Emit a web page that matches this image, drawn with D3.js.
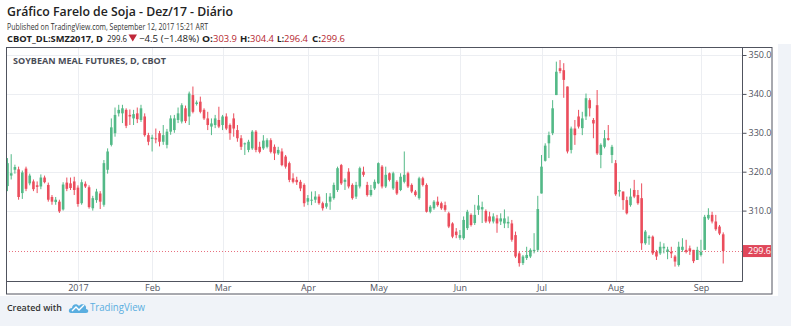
<!DOCTYPE html>
<html><head><meta charset="utf-8">
<script src="https://cdn.jsdelivr.net/npm/d3@7"></script>
<style>
html,body{margin:0;padding:0;background:#fff;}
svg{display:block;}
</style></head><body>
<svg id="c" width="791" height="326"></svg>
<script>
// ---- categories: trading days (Dec 5, 2016 .. Sep 12, 2017) ----
const dates = [
"2016-12-05","2016-12-06","2016-12-07","2016-12-08","2016-12-09","2016-12-12","2016-12-13","2016-12-14","2016-12-15","2016-12-16","2016-12-19","2016-12-20","2016-12-21","2016-12-22","2016-12-23","2016-12-27","2016-12-28","2016-12-29","2016-12-30",
"2017-01-03","2017-01-04","2017-01-05","2017-01-06","2017-01-09","2017-01-10","2017-01-11","2017-01-12","2017-01-13","2017-01-17","2017-01-18","2017-01-19","2017-01-20","2017-01-23","2017-01-24","2017-01-25","2017-01-26","2017-01-27","2017-01-30","2017-01-31",
"2017-02-01","2017-02-02","2017-02-03","2017-02-06","2017-02-07","2017-02-08","2017-02-09","2017-02-10","2017-02-13","2017-02-14","2017-02-15","2017-02-16","2017-02-17","2017-02-21","2017-02-22","2017-02-23","2017-02-24","2017-02-27","2017-02-28",
"2017-03-01","2017-03-02","2017-03-03","2017-03-06","2017-03-07","2017-03-08","2017-03-09","2017-03-10","2017-03-13","2017-03-14","2017-03-15","2017-03-16","2017-03-17","2017-03-20","2017-03-21","2017-03-22","2017-03-23","2017-03-24","2017-03-27","2017-03-28","2017-03-29","2017-03-30","2017-03-31",
"2017-04-03","2017-04-04","2017-04-05","2017-04-06","2017-04-07","2017-04-10","2017-04-11","2017-04-12","2017-04-13","2017-04-17","2017-04-18","2017-04-19","2017-04-20","2017-04-21","2017-04-24","2017-04-25","2017-04-26","2017-04-27","2017-04-28",
"2017-05-01","2017-05-02","2017-05-03","2017-05-04","2017-05-05","2017-05-08","2017-05-09","2017-05-10","2017-05-11","2017-05-12","2017-05-15","2017-05-16","2017-05-17","2017-05-18","2017-05-19","2017-05-22","2017-05-23","2017-05-24","2017-05-25","2017-05-26","2017-05-30","2017-05-31",
"2017-06-01","2017-06-02","2017-06-05","2017-06-06","2017-06-07","2017-06-08","2017-06-09","2017-06-12","2017-06-13","2017-06-14","2017-06-15","2017-06-16","2017-06-19","2017-06-20","2017-06-21","2017-06-22","2017-06-23","2017-06-26","2017-06-27","2017-06-28","2017-06-29","2017-06-30",
"2017-07-03","2017-07-05","2017-07-06","2017-07-07","2017-07-10","2017-07-11","2017-07-12","2017-07-13","2017-07-14","2017-07-17","2017-07-18","2017-07-19","2017-07-20","2017-07-21","2017-07-24","2017-07-25","2017-07-26","2017-07-27","2017-07-28","2017-07-31",
"2017-08-01","2017-08-02","2017-08-03","2017-08-04","2017-08-07","2017-08-08","2017-08-09","2017-08-10","2017-08-11","2017-08-14","2017-08-15","2017-08-16","2017-08-17","2017-08-18","2017-08-21","2017-08-22","2017-08-23","2017-08-24","2017-08-25","2017-08-28","2017-08-29","2017-08-30","2017-08-31",
"2017-09-01","2017-09-05","2017-09-06","2017-09-07","2017-09-08","2017-09-11","2017-09-12"
];

// ---- series values (OHLC) ----
const opens = [
316.3,319.0,320.5,320.6,314.5,320.8,317.0,317.5,316.5,316.2,318.5,316.6,313.5,312.2,312.3,310.3,317.2,317.0,317.5,
315.9,311.9,316.9,316.0,310.6,312.7,314.4,311.5,320.5,326.9,329.9,335.0,335.0,335.9,334.6,333.7,335.0,333.3,334.2,329.4,
328.4,328.6,329.9,327.7,326.9,330.3,330.7,333.3,332.9,336.3,334.2,339.7,337.4,338.0,335.9,333.7,331.6,332.0,333.3,
332.0,334.2,332.0,333.7,330.7,328.6,327.1,325.6,326.0,330.3,326.4,326.0,326.4,328.1,326.4,324.7,325.2,323.9,322.2,318.3,317.9,317.4,316.6,
312.3,312.7,312.8,313.6,311.9,311.0,312.3,313.2,315.3,321.7,317.4,320.0,316.6,313.6,316.2,320.0,316.6,314.0,315.7,
317.0,321.3,316.2,319.6,315.7,317.4,315.3,317.4,319.6,316.6,314.9,313.2,318.3,316.6,309.7,310.6,312.3,311.9,311.4,309.3,306.7,304.6,
303.0,302.9,305.5,308.9,306.8,310.2,310.3,309.9,308.5,307.2,308.0,307.2,306.7,306.7,306.7,303.7,299.0,296.5,297.8,298.2,299.6,299.9,
314.4,322.8,327.3,329.9,339.7,346.6,346.1,341.9,325.6,331.1,334.2,331.2,334.2,338.4,333.3,337.1,324.3,326.4,328.6,324.3,
322.2,314.9,314.9,312.7,311.4,315.3,314.0,313.2,301.6,302.9,303.3,299.4,299.0,300.3,299.4,299.4,298.2,296.0,299.9,299.9,300.3,299.9,297.3,
298.6,299.9,308.0,308.9,307.2,305.9,303.9
];
const highs = [
323.5,324.5,321.8,321.3,320.3,321.3,319.5,318.0,317.5,319.3,319.0,317.2,314.0,313.5,312.8,317.3,318.5,318.5,318.7,
316.5,318.0,317.5,316.5,313.8,315.6,315.0,323.0,326.0,333.7,336.5,337.2,337.2,336.3,336.0,335.9,336.5,337.2,335.0,330.0,
329.5,331.1,330.5,332.0,331.0,334.5,334.6,336.5,337.6,337.0,340.6,341.9,338.3,339.3,336.3,335.4,333.7,334.6,336.7,
334.6,335.0,332.4,335.0,332.0,329.4,327.5,328.2,330.7,330.7,327.7,329.4,328.6,328.6,327.0,326.4,326.0,324.3,322.6,319.6,318.7,317.9,317.0,
314.0,314.9,315.0,314.2,312.3,314.5,314.5,317.2,321.3,322.0,318.3,320.9,317.0,317.4,321.3,321.3,317.4,316.6,318.0,
322.4,321.7,321.3,319.8,320.0,317.8,319.6,325.2,320.0,317.0,315.3,318.7,318.7,317.0,311.4,312.7,313.6,312.3,312.3,309.7,307.0,305.5,
305.0,308.5,310.2,309.3,311.5,314.0,312.3,310.3,309.7,309.3,308.9,309.3,310.3,308.5,307.6,304.6,299.5,298.6,300.7,300.3,304.2,313.8,
324.3,327.3,330.3,338.4,348.3,348.7,347.9,341.9,331.6,333.3,335.9,335.4,340.1,338.9,333.8,341.0,327.3,330.7,332.0,326.9,
323.0,317.4,314.9,313.6,315.7,317.9,315.3,317.0,305.0,303.7,303.6,299.9,302.0,301.6,300.7,300.7,298.6,302.0,302.9,302.5,301.0,299.9,300.7,
302.5,308.9,310.6,309.7,308.9,306.3,304.4
];
const lows = [
315.0,318.0,319.5,312.8,313.0,315.0,316.5,315.0,314.5,315.5,317.0,312.3,311.5,311.5,309.4,310.0,315.0,315.3,314.0,
311.0,311.5,315.8,310.5,310.0,312.0,310.4,311.0,319.5,326.5,329.0,334.2,332.5,331.2,332.0,332.0,332.5,332.8,329.0,326.8,
325.2,327.3,326.5,326.9,326.0,329.5,330.0,332.5,332.4,332.5,332.0,335.0,337.0,335.0,333.3,330.7,329.4,331.2,331.2,
330.7,330.7,328.2,329.0,327.7,325.6,324.3,325.0,325.6,325.0,324.7,325.6,326.0,324.7,323.0,324.3,321.4,320.8,317.3,317.0,316.6,315.0,311.0,
311.4,311.4,312.0,311.5,310.0,310.5,310.2,312.8,314.8,316.6,315.3,315.7,312.8,313.0,315.7,318.7,313.6,313.6,315.3,
316.8,315.7,315.8,317.5,315.3,314.0,315.0,317.0,315.8,314.5,313.6,312.8,316.2,309.5,309.3,310.2,311.0,310.2,309.7,305.5,302.9,302.9,
302.5,302.5,305.0,305.9,306.3,308.9,306.8,306.8,306.7,306.7,304.3,306.3,305.5,305.5,302.0,297.8,295.6,296.0,297.3,297.8,299.0,299.4,
314.4,322.6,323.5,329.4,339.7,345.3,339.0,324.7,324.7,326.9,331.1,329.4,333.3,334.2,328.6,324.3,320.9,326.0,328.0,322.2,
313.8,313.6,310.2,309.0,311.0,313.2,311.5,299.9,301.2,301.2,298.6,297.3,298.6,299.0,297.5,297.8,295.6,295.6,299.4,299.0,298.6,296.5,297.3,
298.2,299.9,307.6,306.7,304.8,303.7,296.4
];
const closes = [
322.2,319.6,321.2,313.5,319.8,315.6,319.0,315.5,316.1,318.5,317.3,312.8,312.3,312.8,309.8,316.7,315.6,315.8,315.3,
311.7,317.3,316.2,310.9,313.2,314.9,312.3,322.2,325.2,331.4,334.6,335.9,336.3,331.8,334.2,334.8,333.5,336.3,329.4,327.7,
328.8,328.3,327.7,329.4,330.3,333.7,333.7,335.0,337.1,333.0,340.1,335.4,337.8,335.4,333.7,332.0,332.4,333.7,331.6,
334.2,331.1,329.9,331.1,328.6,326.4,327.3,327.7,330.3,325.6,325.1,328.0,328.1,325.1,324.7,325.6,321.7,321.3,317.9,317.4,317.3,315.7,311.9,
313.2,312.8,313.6,311.9,310.6,311.9,313.6,316.6,320.9,317.0,317.9,316.2,313.2,316.6,320.9,319.2,314.0,315.3,317.4,
322.2,316.2,319.2,317.9,319.6,314.4,318.7,319.2,316.2,314.9,314.0,318.3,316.6,309.7,311.0,312.3,311.4,310.6,310.2,305.9,303.3,303.7,
303.7,307.6,309.7,306.3,308.9,311.3,310.9,307.2,307.2,308.5,306.7,308.0,308.0,307.1,302.5,298.2,296.5,298.2,298.6,299.9,299.9,310.4,
321.3,326.7,329.4,336.3,345.7,345.9,343.6,325.2,331.1,329.4,331.6,333.7,338.9,336.3,332.4,324.7,326.9,328.6,328.2,326.4,
314.2,315.3,312.7,309.3,313.6,313.6,311.9,301.6,304.6,303.3,299.0,298.2,300.7,300.7,300.0,299.0,296.9,300.7,300.7,299.4,299.6,297.0,299.9,
299.4,308.4,308.9,307.2,305.2,304.1,299.6
];

// ---- tick labels ----
const priceTicks = [310, 320, 330, 340, 350];
const monthLabels = ["2017", "Feb", "Mar", "Apr", "May", "Jun", "Jul", "Aug", "Sep"];
const lastPrice = 299.6;

const title = "Gráfico Farelo de Soja - Dez/17 - Diário";
const subtitle = "Published on TradingView.com, September 12, 2017 15:21 ART";
const symbolLine = "CBOT_DL:SMZ2017, D";
const chartLabel = "SOYBEAN MEAL FUTURES, D, CBOT";

// ---- build ----
const UP = "#53b987", DOWN = "#eb4d5c";
const FONT = "'Open Sans', 'DejaVu Sans', sans-serif";
const svg = d3.select("#c");

const plot = {left: 6, right: 742.5, top: 47, bottom: 281};
const x = d3.scaleLinear().domain([-0.4, 198.2]).range([plot.left, plot.right]);
const y = d3.scaleLinear().domain([291.9, 352.06]).range([plot.bottom, plot.top]);

// backgrounds
svg.append("rect").attr("x", 0).attr("y", 0).attr("width", 791).attr("height", 326).attr("fill", "#fff");
svg.append("rect").attr("x", 0).attr("y", 296).attr("width", 791).attr("height", 30).attr("fill", "#f0f3f8");
svg.append("rect").attr("x", 778).attr("y", 44).attr("width", 13).attr("height", 282).attr("fill", "#f0f3f8");

// month tick indices from the dates
const parsed = dates.map(d3.timeParse("%Y-%m-%d"));
const monthIdx = [];
parsed.forEach((d, i) => { if (i > 0 && d.getMonth() !== parsed[i - 1].getMonth()) monthIdx.push(i); });

// grid
const grid = svg.append("g");
grid.selectAll("line.h").data(priceTicks).join("line")
  .attr("x1", plot.left).attr("x2", plot.right)
  .attr("y1", d => Math.round(y(d)) + 0.5).attr("y2", d => Math.round(y(d)) + 0.5)
  .attr("stroke", "#eceef2").attr("stroke-width", 1);
grid.selectAll("line.v").data(monthIdx).join("line")
  .attr("x1", d => Math.round(x(d)) + 0.5).attr("x2", d => Math.round(x(d)) + 0.5)
  .attr("y1", plot.top).attr("y2", plot.bottom)
  .attr("stroke", "#eceef2").attr("stroke-width", 1);

// last price dotted line
svg.append("line").attr("x1", plot.left).attr("x2", plot.right)
  .attr("y1", Math.round(y(lastPrice)) + 0.5).attr("y2", Math.round(y(lastPrice)) + 0.5)
  .attr("stroke", "#e8707f").attr("stroke-width", 1).attr("stroke-dasharray", "1,2");

// candles
const candles = svg.append("g");
const idx = d3.range(dates.length);
const col = i => closes[i] >= opens[i] ? UP : DOWN;
candles.selectAll("line.w").data(idx).join("line")
  .attr("x1", i => x(i)).attr("x2", i => x(i))
  .attr("y1", i => y(highs[i])).attr("y2", i => y(lows[i]))
  .attr("stroke", col).attr("stroke-width", 1);
const bw = 2.6;
candles.selectAll("rect").data(idx).join("rect")
  .attr("x", i => x(i) - bw / 2).attr("width", bw)
  .attr("y", i => y(Math.max(opens[i], closes[i])))
  .attr("height", i => Math.max(1, Math.abs(y(opens[i]) - y(closes[i]))))
  .attr("fill", col);

// frame
const frame = svg.append("g").attr("fill", "none").attr("stroke", "#50535e").attr("stroke-width", 1);
frame.append("rect").attr("x", 6.5).attr("y", 47.5).attr("width", 765.5).attr("height", 246.5);
frame.append("line").attr("x1", plot.right).attr("x2", plot.right).attr("y1", 47.5).attr("y2", plot.bottom + 0.5);
frame.append("line").attr("x1", 6.5).attr("x2", plot.right).attr("y1", plot.bottom + 0.5).attr("y2", plot.bottom + 0.5);

// price axis
const yAxis = d3.axisRight(y).tickValues(priceTicks).tickFormat(d3.format(".1f")).tickSize(4).tickPadding(2);
const ya = svg.append("g").attr("transform", `translate(${plot.right},0)`).call(yAxis);
ya.select(".domain").remove();
ya.selectAll("line").attr("stroke", "#50535e");
ya.selectAll("text").attr("font-family", FONT).attr("font-size", 9).attr("fill", "#50535e");

// time axis
const xAxis = d3.axisBottom(x).tickValues(monthIdx).tickFormat((d, k) => monthLabels[k]).tickSize(0).tickPadding(4);
const xa = svg.append("g").attr("transform", `translate(0,${plot.bottom})`).call(xAxis);
xa.select(".domain").remove();
xa.selectAll("text").attr("font-family", FONT).attr("font-size", 9).attr("fill", "#50535e");

// last price label
const ly = y(lastPrice);
svg.append("rect").attr("x", 743).attr("y", ly - 6).attr("width", 28).attr("height", 12).attr("fill", "#e0475a");
svg.append("text").attr("x", 748).attr("y", ly + 3.2).text(d3.format(".1f")(lastPrice))
  .attr("font-family", FONT).attr("font-size", 9).attr("fill", "#fff");

// chart label
svg.append("text").attr("x", 13).attr("y", 63.5).text(chartLabel)
  .attr("font-family", FONT).attr("font-size", 8.5).attr("font-weight", "bold").attr("fill", "#4a4d57")
  .attr("textLength", 153).attr("lengthAdjust", "spacingAndGlyphs");

// header
svg.append("text").attr("x", 7).attr("y", 16).text(title)
  .attr("font-family", FONT).attr("font-size", 13).attr("font-weight", "600").attr("fill", "#222")
  .attr("textLength", 226).attr("lengthAdjust", "spacingAndGlyphs");
svg.append("text").attr("x", 7).attr("y", 29.5).text(subtitle)
  .attr("font-family", FONT).attr("font-size", 9).attr("fill", "#333")
  .attr("textLength", 201).attr("lengthAdjust", "spacingAndGlyphs");

const l3 = svg.append("g").attr("font-family", FONT).attr("font-size", 9);
const seg = (tx, xx, w, color, bold) => l3.append("text").attr("x", xx).attr("y", 41.5).text(tx)
  .attr("fill", color).attr("font-weight", bold ? "bold" : "normal")
  .attr("textLength", w).attr("lengthAdjust", "spacingAndGlyphs");
const prevClose = closes[closes.length - 2];
const chg = lastPrice - prevClose;
seg(symbolLine, 7, 96, "#222", true);
seg(d3.format(".1f")(lastPrice), 107, 20, "#222", false);
l3.append("path").attr("d", "M128.5,34.5 L137,34.5 L132.75,41.5 Z").attr("fill", "#c0283a");
seg(`\u2212${Math.abs(chg).toFixed(1)} (\u2212${(Math.abs(chg) / prevClose * 100).toFixed(2)}%)`, 139, 60, "#222", false);
const ohlc = [["O:", opens, 202, 11], ["H:", highs, 240, 10], ["L:", lows, 277, 7], ["C:", closes, 312, 9]];
ohlc.forEach(([lab, arr, xx, w]) => {
  seg(lab, xx, w, "#222", true);
  seg(d3.format(".1f")(arr[arr.length - 1]), xx + w, 24, "#b5262f", false);
});

// footer
svg.append("text").attr("x", 7).attr("y", 311).text("Created with")
  .attr("font-family", FONT).attr("font-size", 9.5).attr("font-weight", "600").attr("fill", "#333")
  .attr("textLength", 55).attr("lengthAdjust", "spacingAndGlyphs");
const logo = svg.append("g").attr("transform", "translate(69,301)");
logo.append("path").attr("d", "M2,12 C-1,12 -1,7 3,7 C3,3 8,2 10,5 C12,2 18,3 17,8 C20,8 20,12 17,12 Z").attr("fill", "#5aaee0");
logo.append("path").attr("d", "M3,10 L7,6 L10,9 L15,4").attr("fill", "none").attr("stroke", "#fff").attr("stroke-width", 1.4);
svg.append("text").attr("x", 90).attr("y", 311).text("TradingView")
  .attr("font-family", FONT).attr("font-size", 10).attr("fill", "#5aaee0")
  .attr("textLength", 55).attr("lengthAdjust", "spacingAndGlyphs");
</script>
</body></html>
